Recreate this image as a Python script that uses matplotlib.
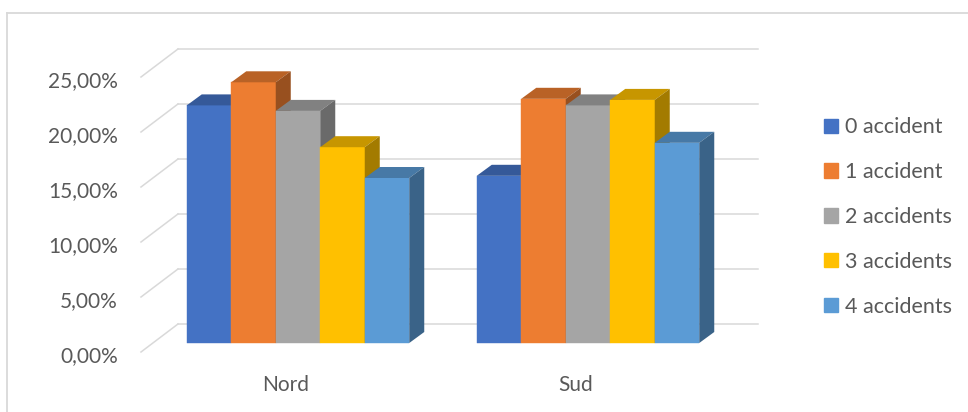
import matplotlib.pyplot as plt
import matplotlib.colors as mcolors
from matplotlib.patches import Polygon, Patch
from matplotlib.lines import Line2D

# share of drivers (%) by number of accidents, per region
regions = ['Nord', 'Sud']
series = ['0 accident', '1 accident', '2 accidents', '3 accidents', '4 accidents']
acc0 = [21.6, 15.2]
acc1 = [23.7, 22.2]
acc2 = [21.1, 21.6]
acc3 = [17.8, 22.1]
acc4 = [15.0, 18.2]
y_ticks = [0, 5, 10, 15, 20, 25]

colors = ['#4472C4', '#ED7D31', '#A5A5A5', '#FFC000', '#5B9BD5']
grid_col = '#D9D9D9'
text_col = '#595959'

plt.rcParams['font.family'] = ['Lato', 'DejaVu Sans']

W, H = 968, 412
fig = plt.figure(figsize=(W / 100, H / 100), dpi=100)
# axes = plane of the bar front faces
ax = fig.add_axes([153 / W, 69 / H, 580 / W, 275 / H])
ax.set_xlim(-0.5, len(regions) - 0.5)
ax.set_ylim(0, 25)
ax.axis('off')

# pixel offsets for the fake 3d depth
WALL = (25, 19)       # bar front -> back wall
FRONT = (-12, -9)     # bar front -> front edge of floor
DEPTH = (15, 11)      # thickness of a bar


def shift(x, y, off):
    px, py = ax.transData.transform((x, y))
    return tuple(ax.transData.inverted().transform((px + off[0], py + off[1])))


def shade(c, f):
    r, g, b = mcolors.to_rgb(c)
    return (r * f, g * f, b * f)


# back wall and side wall gridlines
x_lo, x_hi = ax.get_xlim()
for v in y_ticks:
    a = shift(x_lo, v, WALL)
    b = shift(x_hi, v, WALL)
    c = shift(x_lo, v, FRONT)
    ax.plot([a[0], b[0]], [a[1], b[1]], color=grid_col, lw=1.1, clip_on=False, zorder=1)
    ax.plot([c[0], a[0]], [c[1], a[1]], color=grid_col, lw=1.1, clip_on=False, zorder=1)
    ax.annotate(f'{v:.2f}'.replace('.', ',') + '%', xy=c, xytext=(-23, -4),
                textcoords='offset pixels', ha='right', va='center',
                fontsize=15, color=text_col, annotation_clip=False)

# bars, drawn left to right so each one hides its neighbour's side
data = [acc0, acc1, acc2, acc3, acc4]
bw = 44.5 / 290
z = 2
for r, name in enumerate(regions):
    for i, vals in enumerate(data):
        h = vals[r]
        x = r + (i - 2) * bw
        ax.bar(x, h, width=bw, color=colors[i], edgecolor=colors[i], lw=0.3,
               zorder=z, clip_on=False)
        x0, x1 = x - bw / 2, x + bw / 2
        top = [(x0, h), (x1, h), shift(x1, h, DEPTH), shift(x0, h, DEPTH)]
        side = [(x1, 0), (x1, h), shift(x1, h, DEPTH), shift(x1, 0, DEPTH)]
        ax.add_patch(Polygon(top, closed=True, color=shade(colors[i], 0.78),
                             lw=0, zorder=z, clip_on=False))
        ax.add_patch(Polygon(side, closed=True, color=shade(colors[i], 0.64),
                             lw=0, zorder=z, clip_on=False))
        z += 1
    ax.annotate(name, xy=shift(r, 0, FRONT), xytext=(0, -33),
                textcoords='offset pixels', ha='center', va='center',
                fontsize=15, color=text_col, annotation_clip=False)

handles = [Patch(color=c) for c in colors]
leg = fig.legend(handles, series, loc='center left', bbox_to_anchor=(824 / W, 1 - 217 / H),
                 frameon=False, fontsize=15.5, handlelength=0.65, handleheight=0.65,
                 handletextpad=0.33, labelspacing=1.15, borderpad=0, borderaxespad=0)
for t in leg.get_texts():
    t.set_color(text_col)

# chart border (cut off at right and bottom)
fig.add_artist(Line2D([7 / W, 1], [1 - 13 / H, 1 - 13 / H], transform=fig.transFigure,
                      color=grid_col, lw=1.3))
fig.add_artist(Line2D([7 / W, 7 / W], [0, 1 - 13 / H], transform=fig.transFigure,
                      color=grid_col, lw=1.3))

fig.savefig('out.png', dpi=100)
